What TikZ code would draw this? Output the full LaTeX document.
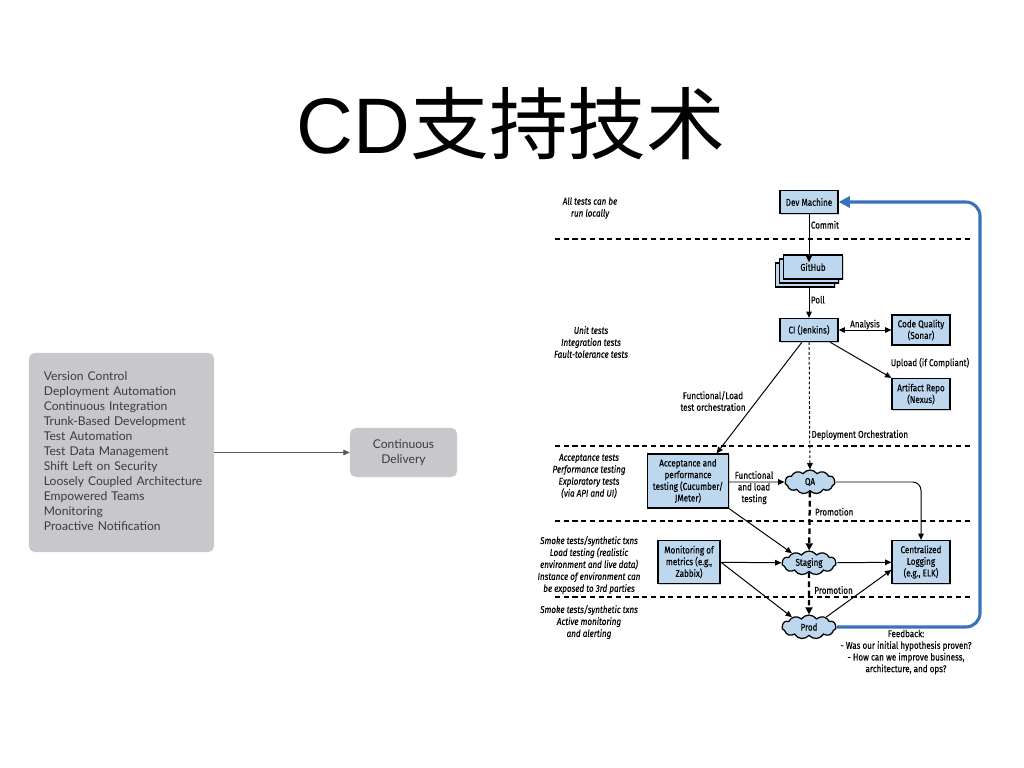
\documentclass[tikz,border=0pt]{standalone}
\usepackage{fontspec}
\setmainfont{Liberation Sans}
\newfontfamily\cjkfont{Noto Sans CJK SC}
\newfontfamily\listfont{Lato}
\newfontfamily\diagfont[FakeStretch=0.82, FakeBold=0.3]{Fira Sans}
\usetikzlibrary{arrows.meta,shapes.symbols,shadows}
\definecolor{boxblue}{HTML}{BCD7EE}
\definecolor{capgray}{HTML}{C8C8CC}
\definecolor{fbblue}{HTML}{3A72BA}
\definecolor{listtext}{HTML}{3C3C3C}

\begin{document}
\begin{tikzpicture} [
    x=0.025cm, y=-0.025cm,
    block/.style    = { rectangle, draw, line width=0.9pt, fill=boxblue, align=center,
                        inner sep=1pt, minimum width=1.45cm, minimum height=0.575cm,
                        font=\diagfont\fontsize{7}{8.3}\selectfont,
                        drop shadow={shadow xshift=1pt, shadow yshift=-1pt, opacity=0.35} },
    cloudy/.style   = { cloud, cloud puffs=11, cloud puff arc=110, aspect=2.6, draw,
                        line width=0.9pt, fill=boxblue, inner sep=0pt,
                        minimum width=1.3cm, minimum height=0.6cm,
                        font=\diagfont\fontsize{7}{8.3}\selectfont },
    note/.style     = { align=center, inner sep=1pt, font=\diagfont\fontsize{7}{8.3}\selectfont },
    side/.style     = { align=center, inner sep=1pt, font=\diagfont\itshape\fontsize{7}{8.5}\selectfont },
    line/.style     = { draw, line width=0.7pt, -{Triangle[length=4.5pt,width=4pt]} },
    promote/.style  = { draw, line width=1.6pt, dash pattern=on 4pt off 2.5pt,
                        -{Triangle[length=5pt,width=5pt]} },
    sep/.style      = { draw, line width=0.8pt, dash pattern=on 3.6pt off 2.6pt },
    capbox/.style   = { rectangle, rounded corners=4pt, fill=capgray, text=listtext,
                        font=\listfont\fontsize{8.6}{10.65}\selectfont },
  ]

  \useasboundingbox (0,0) rectangle (1024,768);

  % title
  \node (title) at (511,124) {\fontsize{56}{60}\selectfont CD{\cjkfont 支持技术}};

  % capabilities leading to continuous delivery
  \node[capbox, minimum width=4.625cm, minimum height=4.975cm, align=left,
        text width=4.1cm, inner xsep=0.2625cm] (caps) at (121.5,452.5)
        {\hspace*{0.11cm}\begin{tabular}{@{}l@{}}Version Control\\ Deployment Automation\\ Continuous Integration\\
         Trunk-Based Development\\ Test Automation\\ Test Data Management\\
         Shift Left on Security\\ Loosely Coupled Architecture\\ Empowered Teams\\
         Monitoring\\ Proactive Notification\end{tabular}};
  \node[capbox, minimum width=2.675cm, minimum height=1.225cm, align=center] (cd)
        at (403.5,452.5) {Continuous\\ Delivery};
  \draw[draw=black!65, line width=0.5pt, -{Triangle[length=4.5pt,width=4pt]}] (caps) -- (cd);

  % stage separators
  \foreach \y in {239,446,521,597}
    \path[sep] (555,\y) -- (972,\y);

  % notes per stage
  \node[side] (localnote) at (590,208) {All tests can be\\ run locally};
  \node[side] (unitnote)  at (591,342) {Unit tests\\ Integration tests\\ Fault-tolerance tests};
  \node[side] (accnote)   at (589,476) {Acceptance tests\\ Performance testing\\
                                        Exploratory tests\\ (via API and UI)};
  \node[side] (stagenote) at (589,565) {Smoke tests/synthetic txns\\ Load testing (realistic\\
                                        environment and live data)\\ Instance of environment can\\
                                        be exposed to 3rd parties};
  \node[side] (prodnote)  at (589,622) {Smoke tests/synthetic txns\\ Active monitoring\\ and alerting};

  % pipeline nodes
  \node[block] (dev) at (809,202) {Dev Machine};
  \node[block, minimum width=1.475cm, minimum height=0.6cm] (github3) at (805,275) {};
  \node[block, minimum width=1.475cm, minimum height=0.6cm] (github2) at (809,271) {};
  \node[block, minimum width=1.475cm, minimum height=0.6cm] (github) at (813,267) {GitHub};
  \node[block] (ci) at (809,330) {CI (Jenkins)};
  \node[block, minimum height=0.75cm] (sonar) at (921,330) {Code Quality\\ (Sonar)};
  \node[block, minimum height=0.775cm] (nexus) at (921,394) {Artifact Repo\\ (Nexus)};
  \node[block, minimum width=2.025cm, minimum height=1.35cm] (accept) at (688,481)
        {Acceptance and\\ performance\\ testing (Cucumber/\\ JMeter)};
  \node[cloudy, minimum width=1.25cm] (qa) at (810,482) {QA};
  \node[block, minimum width=1.55cm, minimum height=1.075cm] (monitor) at (689,562)
        {Monitoring of\\ metrics (e.g.,\\ Zabbix)};
  \node[cloudy, minimum width=1.35cm] (staging) at (809,563) {Staging};
  \node[block, minimum height=1.075cm] (logging) at (921,562) {Centralized\\ Logging\\ (e.g., ELK)};
  \node[cloudy, minimum width=1.35cm] (prod) at (809,627) {Prod};

  % connect the nodes
  \path [line] (dev) -- node[note, anchor=west, pos=0.22] {Commit} (github3.north -| dev);
  \path [line] (github3.south -| ci) -- node[note, anchor=west, pos=0.4] {Poll} (ci);
  \path [draw, line width=0.7pt, {Triangle[length=4.5pt,width=4pt]}-{Triangle[length=4.5pt,width=4pt]}]
        (ci) -- node[note, above, yshift=-1pt] {Analysis} (sonar);
  \path [line] (ci.-30) -- (nexus.north west);
  \node[note] (uploadlbl) at (930,363) {Upload (if Compliant)};
  \path [line] (ci.-120) -- (accept.44);
  \node[note] (orchlbl) at (713,401) {Functional/Load\\ test orchestration};
  \path [line, dash pattern=on 2pt off 1.5pt] (ci) --
        node[note, anchor=west, pos=0.73] {Deployment Orchestration} (qa);
  \path [line] (accept.east |- qa) -- node[note, pos=0.45, yshift=-4pt] {Functional\\ and load\\ testing} (qa);
  \path [line, rounded corners=6pt] (qa) -| (logging);
  \path [promote] (qa) -- node[note, anchor=west, xshift=2pt, pos=0.34] {Promotion} (staging);
  \path [line] (accept.south east) -- (staging.150);
  \path [line] (monitor) -- (staging);
  \path [line] (monitor.east) -- (prod.150);
  \path [line] (staging) -- (logging);
  \path [promote] (staging) -- node[note, anchor=west, xshift=2pt, pos=0.42] {Promotion} (prod);
  \path [line] (prod.30) -- (logging.195);

  % feedback loop
  \path [draw=fbblue, line width=2.2pt, rounded corners=10pt,
         -{Triangle[length=8pt,width=8pt]}] (prod.east) -| (980,202) -- (dev.east);
  \node[note] (feedback) at (906,652) {Feedback:\\ - Was our initial hypothesis proven?\\
        - How can we improve business,\\ architecture, and ops?};
\end{tikzpicture}
\end{document}
